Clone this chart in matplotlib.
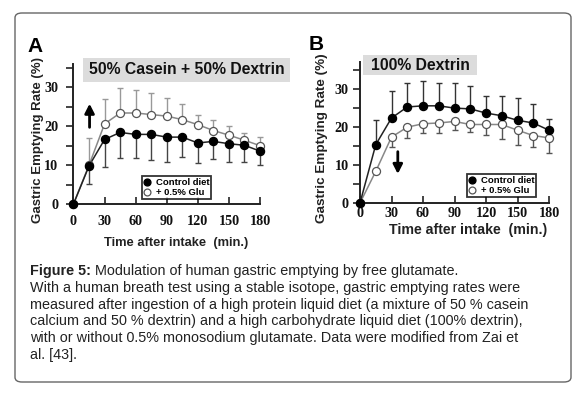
import matplotlib
matplotlib.use("Agg")
import matplotlib.pyplot as plt
from matplotlib.patches import FancyBboxPatch, Rectangle

# time points (min)
TIME = [0, 15, 30, 45, 60, 75, 90, 105, 120, 135, 150, 165, 180]

# panel A: 50% casein + 50% dextrin
A_CTRL = [0, 9.8, 16.6, 18.4, 17.9, 17.9, 17.2, 17.2, 15.7, 16.1, 15.5, 15.1, 13.6]
A_CTRL_ERR = [0, 4.7, 7.0, 6.5, 6.0, 6.6, 6.4, 5.0, 5.2, 4.6, 4.6, 4.2, 3.6]   # drawn downward
A_GLU = [0, 10.0, 20.6, 23.4, 23.4, 23.0, 22.6, 21.7, 20.4, 18.9, 17.7, 16.4, 15.0]
A_GLU_ERR = [0, 7.0, 6.4, 6.4, 5.8, 5.5, 4.7, 4.0, 2.6, 2.6, 2.3, 1.9, 2.3]     # drawn upward

# panel B: 100% dextrin
B_CTRL = [0, 15.3, 22.3, 25.2, 25.5, 25.5, 24.9, 24.7, 23.6, 22.9, 21.7, 21.0, 19.1]
B_CTRL_ERR = [0, 6.4, 7.0, 6.3, 6.4, 6.1, 6.6, 6.1, 4.6, 5.3, 5.9, 5.1, 3.0]    # upward
B_GLU = [0, 8.3, 17.3, 19.9, 20.8, 21.0, 21.4, 20.6, 20.6, 20.6, 19.1, 17.7, 17.1]
B_GLU_ERR = [0, 0, 2.5, 2.9, 2.3, 2.6, 2.2, 2.0, 2.7, 3.8, 3.8, 3.0, 4.0]       # downward

XTICKS = [0, 30, 60, 90, 120, 150, 180]
YTICKS = [0, 10, 20, 30]
LEG_LABELS = ["Control diet", "+ 0.5% Glu"]
CAPTION = [
    "With a human breath test using a stable isotope, gastric emptying rates were",
    "measured after ingestion of a high protein liquid diet (a mixture of 50 % casein",
    "calcium and 50 % dextrin) and a high carbohydrate liquid diet (100% dextrin),",
    "with or without 0.5% monosodium glutamate. Data were modified from Zai et",
    "al. [43].",
]

W, H = 587, 394
SANS = "Liberation Sans"
SERIF = "Liberation Serif"

fig = plt.figure(figsize=(W / 100, H / 100), dpi=100)


def px(x0, y0, x1, y1):
    # pixel box (top-left origin) -> figure fraction rect
    return [x0 / W, 1 - y1 / H, (x1 - x0) / W, (y1 - y0) / H]


# rounded outer border
fig.patches.append(FancyBboxPatch((15 / W, 1 - 382 / H), 556 / W, 369 / H,
                                  boxstyle="round,pad=0,rounding_size=0.012",
                                  transform=fig.transFigure, fc="none",
                                  ec="#666666", lw=1.0, zorder=-1))


def panel(rect, ctrl, ctrl_err, glu, glu_err, ctrl_up, ylim, leg_box, ylab_xy, xlab_xy,
          xpad, ypad, ylab_size, xlab_size):
    ax = fig.add_axes(rect, zorder=2)
    ax.patch.set_alpha(0)
    if ctrl_up:
        c_err = [[0] * len(ctrl), ctrl_err]
        g_err = [glu_err, [0] * len(glu)]
        c_col, g_col = "#333333", "#555555"
    else:
        c_err = [ctrl_err, [0] * len(ctrl)]
        g_err = [[0] * len(glu), glu_err]
        c_col, g_col = "#444444", "#999999"
    ax.errorbar(TIME, glu, yerr=g_err, fmt="none", ecolor=g_col, elinewidth=1.0,
                capsize=2.2, capthick=1.0, zorder=2, clip_on=False)
    ax.errorbar(TIME, ctrl, yerr=c_err, fmt="none", ecolor=c_col, elinewidth=1.0,
                capsize=2.2, capthick=1.0, zorder=2, clip_on=False)
    ax.plot(TIME, glu, "-", color="#888888", lw=1.1, zorder=3, clip_on=False)
    ax.plot(TIME, ctrl, "-", color="#222222", lw=1.1, zorder=3, clip_on=False)
    hg, = ax.plot(TIME, glu, "o", ms=5.8, mfc="white", mec="#555555", mew=0.9,
                  zorder=4, clip_on=False)
    hc, = ax.plot(TIME, ctrl, "o", ms=5.8, mfc="black", mec="black", zorder=5,
                  clip_on=False)

    ax.set_xlim(0, 180)
    ax.set_ylim(*ylim)
    for s in ("top", "right"):
        ax.spines[s].set_visible(False)
    for s in ("left", "bottom"):
        ax.spines[s].set_linewidth(1.4)
        ax.spines[s].set_color("#222222")
    ax.set_xticks(XTICKS)
    ax.set_yticks(YTICKS)
    ax.set_yticks([5, 15, 25, 35], minor=True)
    ax.tick_params(axis="x", direction="in", length=5, width=1.1, pad=xpad,
                   colors="#111111")
    ax.tick_params(axis="y", which="both", direction="out", length=5, width=1.1,
                   pad=ypad, colors="#111111")
    for lab in ax.get_xticklabels() + ax.get_yticklabels():
        lab.set_fontfamily(SERIF)
        lab.set_fontweight("bold")
        lab.set_fontsize(10.2)

    ax.set_ylabel("Gastric Emptying Rate (%)", fontfamily=SANS, fontweight="bold",
                  fontsize=ylab_size, color="#222222")
    ax.yaxis.set_label_coords(*ylab_xy)
    ax.set_xlabel("Time after intake  (min.)", fontfamily=SANS, fontweight="bold",
                  fontsize=xlab_size, color="#222222")
    ax.xaxis.set_label_coords(*xlab_xy)

    leg = ax.legend([hc, hg], LEG_LABELS, loc="upper left", bbox_to_anchor=leg_box,
                    frameon=True, fancybox=False, borderpad=0.2, handlelength=0.8,
                    handletextpad=0.5, labelspacing=0.15, borderaxespad=0,
                    markerscale=0.85,
                    prop={"family": SANS, "weight": "bold", "size": 6.8})
    leg.get_frame().set_edgecolor("black")
    leg.get_frame().set_linewidth(1.3)
    return ax


axA = panel(px(73.5, 64, 260, 204), A_CTRL, A_CTRL_ERR, A_GLU, A_GLU_ERR, False,
            (0, 36), (0.366, 0.2), (-0.158, 0.457), (0.55, -0.235), 8, 6, 9.5, 9.3)
axB = panel(px(360, 62, 549, 203), B_CTRL, B_CTRL_ERR, B_GLU, B_GLU_ERR, True,
            (0, 37), (0.564, 0.206), (-0.17, 0.46), (0.574, -0.145), 3, 3, 9.7, 10.2)

# arrows
axA.annotate("", xy=(15.5, 26.5), xytext=(15.5, 19.0),
             arrowprops=dict(arrowstyle="-|>,head_width=0.28,head_length=0.55",
                             color="black", lw=2.0), annotation_clip=False)
axB.annotate("", xy=(36, 6.9), xytext=(36, 14.2),
             arrowprops=dict(arrowstyle="-|>,head_width=0.28,head_length=0.55",
                             color="black", lw=2.0), annotation_clip=False)

# panel letters
fig.text(27 / W, 1 - 52 / H, "A", fontfamily=SANS, fontweight="bold", fontsize=15,
         va="baseline", ha="left")
fig.text(309 / W, 1 - 50 / H, "B", fontfamily=SANS, fontweight="bold", fontsize=15,
         va="baseline", ha="left")

# grey title boxes
for (x0, y0, x1, y1), title in (((83, 58, 290, 82), "50% Casein + 50% Dextrin"),
                                ((363, 55, 477, 75), "100% Dextrin")):
    fig.patches.append(Rectangle((x0 / W, 1 - y1 / H), (x1 - x0) / W, (y1 - y0) / H,
                                 transform=fig.transFigure, fc="#dcdcdc", ec="none",
                                 zorder=-1))
    fig.text((x0 + x1) / 2 / W, 1 - (y0 + y1) / 2 / H, title, fontfamily=SANS,
             fontweight="bold", fontsize=11.3, ha="center", va="center", color="#111111")

# caption
base0 = 275.5
step = 16.6
cap_kw = dict(fontfamily=SANS, fontsize=10.35, color="#222222")
t1 = fig.text(30 / W, 1 - base0 / H, "Figure 5:", fontweight="bold", va="baseline",
              **cap_kw)
fig.add_artist(matplotlib.text.Annotation(
    " Modulation of human gastric emptying by free glutamate.", xy=(1, 0), xycoords=t1,
    va="bottom", ha="left", annotation_clip=False, **cap_kw))
for i, line in enumerate(CAPTION):
    fig.text(30 / W, 1 - (base0 + step * (i + 1)) / H, line, va="baseline", **cap_kw)

fig.savefig("out.png", dpi=100)
